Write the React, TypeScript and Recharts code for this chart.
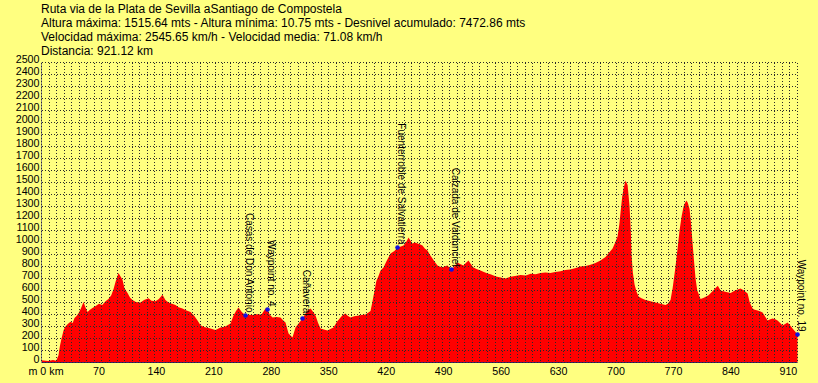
import React from 'react';
import { ComposedChart, Area, Scatter, XAxis, YAxis, CartesianGrid } from 'recharts';

const titleLines = [
  'Ruta via de la Plata de Sevilla aSantiago de Compostela',
  'Altura máxima: 1515.64 mts - Altura mínima: 10.75 mts - Desnivel acumulado: 7472.86 mts',
  'Velocidad máxima: 2545.65 km/h - Velocidad media: 71.08 km/h',
  'Distancia: 921.12 km',
];

const totalKm = 921.12;

const profileKm = [
  0, 8, 14, 18, 20.7, 22.5, 24.4, 27, 29.2, 32, 35.3, 38, 40.2, 43, 45.1, 48, 51.2, 53.5, 56.1, 59,
  62.1, 66, 70, 74, 78, 81.6, 85, 87.7, 90.5, 93.8, 96, 98.7, 101, 104.8, 108, 110.9, 115, 120.6, 125, 130.4,
  134, 138.9, 143, 147.4, 151, 154.7, 159, 163.3, 167, 171.8, 176, 181.6, 186, 190.1, 193.7, 198, 205.9, 212, 218.1, 224,
  230.3, 234, 237, 240, 244, 248.6, 252, 257.1, 262, 268.1, 272.9, 275.4, 278, 281.5, 286, 291.2, 294, 297.3, 301, 305.8,
  309.5, 313.2, 318, 321, 324.1, 327.8, 331, 333.9, 337, 340, 344, 348.5, 352, 355.8, 360, 364.3, 367, 370.4, 373, 376.5,
  381, 385, 390, 394.8, 398, 400.9, 403, 405.8, 408, 410.6, 413.1, 416.7, 420, 425.3, 430, 433.8, 437, 441.1, 444, 447.2,
  450, 452.1, 455, 458.2, 461, 464.2, 467, 470.3, 473, 476.4, 479, 482.5, 485, 488.6, 491, 494.7, 497, 499.6, 503, 506.9,
  510, 514.2, 517, 520.3, 523, 526.4, 530, 534.9, 539, 543.5, 547, 550.8, 555, 559.3, 565, 571.5, 577, 583.7, 590, 596,
  602, 608, 614, 620, 626, 632.4, 638, 644, 650, 656.8, 663, 669, 675, 681, 687.2, 691, 695.8, 699, 701.9, 704,
  705.5, 707.5, 709.2, 711.6, 714.1, 716.5, 718, 718.9, 720.5, 722.6, 725, 727.5, 731, 736, 742, 748.2, 754, 760.4, 763, 766.4,
  769, 772.5, 775, 777.4, 780, 782.3, 784, 785.9, 787.5, 789.6, 791.5, 793.2, 795, 796.9, 799, 803, 807, 812.7, 817, 821.3,
  824, 827.4, 833, 839.6, 845, 851.7, 856, 860.3, 863, 866.4, 869, 872.5, 876, 878.6, 882, 884.7, 888, 890.7, 894, 896.8,
  900, 902.9, 906, 909, 912, 915.1, 918, 921.12,
];

const profileEle = [
  18, 12, 20, 15, 60, 140, 200, 270, 300, 320, 340, 330, 370, 390, 410, 450, 505, 460, 420, 440,
  455, 470, 490, 480, 510, 530, 560, 610, 680, 745, 720, 690, 620, 580, 540, 520, 505, 500, 520, 535,
  515, 510, 530, 565, 520, 500, 490, 480, 460, 450, 435, 420, 390, 350, 310, 295, 283, 270, 292, 300,
  325, 392, 430, 458, 420, 392, 398, 395, 402, 400, 450, 442, 400, 375, 380, 375, 355, 333, 242, 208,
  292, 325, 367, 400, 433, 450, 420, 392, 330, 283, 275, 267, 280, 292, 340, 375, 395, 408, 390, 375,
  385, 390, 395, 400, 415, 430, 500, 600, 680, 720, 767, 792, 840, 908, 930, 958, 965, 975, 1000, 1042,
  1010, 992, 1000, 992, 985, 975, 950, 933, 900, 867, 840, 808, 800, 792, 800, 808, 790, 775, 800, 833,
  820, 808, 830, 850, 820, 792, 780, 767, 755, 742, 735, 725, 715, 708, 700, 715, 720, 730, 725, 740,
  735, 745, 750, 745, 755, 760, 770, 775, 785, 800, 805, 815, 830, 850, 880, 910, 950, 1000, 1050, 1150,
  1250, 1380, 1450, 1515.64, 1480, 1300, 1100, 900, 750, 650, 590, 550, 535, 520, 510, 500, 490, 480, 490, 520,
  620, 800, 950, 1100, 1220, 1300, 1330, 1350, 1330, 1280, 1150, 1000, 850, 700, 600, 530, 540, 560, 590, 620,
  640, 600, 590, 580, 600, 617, 600, 575, 500, 450, 440, 433, 425, 417, 380, 350, 360, 367, 360, 350,
  330, 308, 320, 333, 310, 283, 260, 233,
];

const waypointNames = [
  'Casas de Don Antonio',
  'Waypoint no. 4',
  'Cañaveral',
  'Fuenterroble de Salvatierra',
  'Calzada de Valdunciel',
  'Waypoint no. 19',
];
const waypointKm = [248.6, 275.4, 318, 433.8, 499.6, 921.12];
const waypointEle = [392, 442, 367, 958, 775, 233];

const xTicks = [0, 70, 140, 210, 280, 350, 420, 490, 560, 630, 700, 770, 840, 910];
const yTicks = [
  0, 100, 200, 300, 400, 500, 600, 700, 800, 900, 1000, 1100, 1200, 1300, 1400, 1500, 1600, 1700, 1800,
  1900, 2000, 2100, 2200, 2300, 2400, 2500,
];
const gridDivisions = 100;
const gridTicks = Array.from({ length: gridDivisions + 1 }, (_, i) => (i * totalKm) / gridDivisions);

const profile = profileKm.map((km, i) => ({ km, ele: profileEle[i] }));
const waypoints = waypointKm.map((km, i) => ({ km, ele: waypointEle[i], name: waypointNames[i] }));

const FONT = '"Liberation Sans", Arial, sans-serif';
const BG = '#FFFF80';
const MARGIN = { top: 62.5, right: 20.5, bottom: 0.5, left: 0 };

const YTick = (props: any) => {
  const { x, y, payload } = props;
  return (
    <text x={x} y={y} textAnchor="end" fontSize={10.7} fontFamily={FONT} fill="#000">
      {payload.value}
    </text>
  );
};

const XTick = (props: any) => {
  const { x, y, payload } = props;
  if (payload.value === 0) {
    return (
      <text x={x - 13} y={y + 12} textAnchor="start" fontSize={10.7} fontFamily={FONT} fill="#000">
        m 0 km
      </text>
    );
  }
  return (
    <text x={x} y={y + 12} textAnchor="middle" fontSize={10.7} fontFamily={FONT} fill="#000">
      {payload.value}
    </text>
  );
};

const EmptyTick = () => <g />;

const WaypointShape = (props: any) => {
  const { cx, cy, payload } = props;
  if (cx == null || cy == null) return null;
  const tx = cx;
  const ty = cy - 3;
  return (
    <g>
      <text
        x={tx}
        y={ty}
        textAnchor="end"
        fontSize={10}
        fontFamily={FONT}
        fill="#000"
        transform={`rotate(90 ${tx} ${ty})`}
      >
        {payload.name}
      </text>
      <circle cx={cx} cy={cy} r={2.3} fill="#1010e0" />
    </g>
  );
};

export default function App() {
  return (
    <div style={{ position: 'absolute', left: 0, top: 0, width: 818, height: 383, background: BG, overflow: 'hidden' }}>
      <style>{`.grid-overlay .recharts-cartesian-grid line { shape-rendering: crispEdges; }`}</style>
      <div style={{ position: 'absolute', left: 0, top: 0 }}>
        <ComposedChart width={818} height={383} data={profile} margin={MARGIN}>
          <XAxis
            dataKey="km"
            type="number"
            domain={[0, totalKm]}
            ticks={xTicks}
            interval={0}
            tick={<XTick />}
            tickLine={false}
            tickSize={0}
            tickMargin={0}
            height={20}
            axisLine={{ stroke: '#3a2070', strokeWidth: 1 }}
          />
          <XAxis
            xAxisId="top"
            orientation="top"
            dataKey="km"
            type="number"
            domain={[0, totalKm]}
            ticks={gridTicks}
            interval={0}
            tick={false}
            tickLine={false}
            height={0}
            axisLine={{ stroke: '#8a8a8a' }}
          />
          <YAxis
            type="number"
            domain={[0, 2500]}
            ticks={yTicks}
            interval={0}
            tick={<YTick />}
            tickLine={false}
            tickSize={0}
            tickMargin={2}
            width={41.5}
            axisLine={{ stroke: '#8a8a8a' }}
          />
          <YAxis
            yAxisId="right"
            orientation="right"
            type="number"
            domain={[0, 2500]}
            tick={false}
            tickLine={false}
            width={0}
            axisLine={{ stroke: '#8a8a8a' }}
          />
          <Area
            type="linear"
            dataKey="ele"
            fill="#FF0000"
            fillOpacity={1}
            stroke="none"
            isAnimationActive={false}
          />
        </ComposedChart>
      </div>
      <div className="grid-overlay" style={{ position: 'absolute', left: 0, top: 0 }}>
        <ComposedChart width={818} height={383} data={profile} margin={MARGIN}>
          <XAxis
            dataKey="km"
            type="number"
            domain={[0, totalKm]}
            ticks={xTicks}
            interval={0}
            tick={<EmptyTick />}
            tickLine={false}
            tickSize={0}
            tickMargin={0}
            height={20}
            axisLine={false}
          />
          <XAxis
            xAxisId="top"
            orientation="top"
            dataKey="km"
            type="number"
            domain={[0, totalKm]}
            ticks={gridTicks}
            interval={0}
            tick={<EmptyTick />}
            tickLine={false}
            tickSize={0}
            height={0}
            axisLine={false}
          />
          <YAxis
            type="number"
            domain={[0, 2500]}
            ticks={yTicks}
            interval={0}
            tick={<EmptyTick />}
            tickLine={false}
            tickSize={0}
            width={41.5}
            axisLine={false}
          />
          <YAxis
            yAxisId="right"
            orientation="right"
            type="number"
            domain={[0, 2500]}
            tick={false}
            tickLine={false}
            width={0}
            axisLine={false}
          />
          <Area
            xAxisId="top"
            type="linear"
            dataKey="ele"
            fill="none"
            fillOpacity={0}
            stroke="none"
            isAnimationActive={false}
          />
          <CartesianGrid
            xAxisId="top"
            stroke="#2a2a2a"
            strokeDasharray="1 2"
            fill="none"
            vertical
            horizontal
          />
          <Scatter data={waypoints} dataKey="ele" shape={WaypointShape} isAnimationActive={false} />
        </ComposedChart>
      </div>
      <svg
        width={818}
        height={70}
        style={{ position: 'absolute', left: 0, top: 0, pointerEvents: 'none' }}
      >
        {titleLines.map((line, i) => (
          <text key={i} x={41} y={12.5 + i * 14} fontSize={12} fontFamily={FONT} fill="#000">
            {line}
          </text>
        ))}
      </svg>
    </div>
  );
}
